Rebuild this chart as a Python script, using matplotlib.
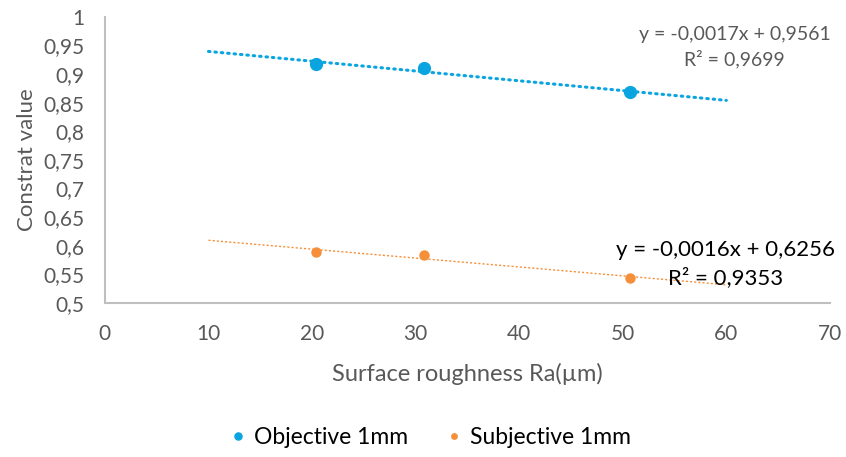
import numpy as np
import matplotlib.pyplot as plt
from matplotlib.ticker import FuncFormatter, MultipleLocator

plt.rcParams['font.family'] = ['Lato', 'DejaVu Sans']

roughness = [20.4, 30.8, 50.7]
objective = [0.918, 0.910, 0.868]
subjective = [0.589, 0.584, 0.544]
trend_range = [10, 60]

blue = '#0AA5E0'
orange = '#F58F3A'
gray = '#595959'

fig = plt.figure(figsize=(8.46, 4.57), dpi=100)
ax = fig.add_axes([0.124, 0.337, 0.857, 0.626])

ax.plot(roughness, objective, 'o', color=blue, markersize=8.5, label="Objective 1mm", zorder=3)
ax.plot(roughness, subjective, 'o', color=orange, markersize=6.5, label="Subjective 1mm", zorder=3)

# linear trendlines, like excel
xt = np.array(trend_range)
p1 = np.polyfit(roughness, objective, 1)
p2 = np.polyfit(roughness, subjective, 1)
ax.plot(xt, np.polyval(p1, xt), color=blue, lw=2.2, linestyle=(0, (0.5, 1.6)), dash_capstyle='round')
ax.plot(xt, np.polyval(p2, xt), color=orange, lw=1.0, linestyle=(0, (1.5, 1.5)))

ax.text(60.8, 0.9475, "y = -0,0017x + 0,9561\nR² = 0,9699", ha='center', va='center',
        color=gray, fontsize=14, linespacing=1.45)
ax.text(59.9, 0.568, "y = -0,0016x + 0,6256\nR² = 0,9353", ha='center', va='center',
        color='black', fontsize=16, linespacing=1.4)

ax.set_xlim(0, 70)
ax.set_ylim(0.5, 1.0)
ax.xaxis.set_major_locator(MultipleLocator(10))
ax.yaxis.set_major_locator(MultipleLocator(0.05))
fmt = FuncFormatter(lambda v, pos: ('%g' % round(v, 2)).replace('.', ','))
ax.xaxis.set_major_formatter(fmt)
ax.yaxis.set_major_formatter(fmt)

for s in ['top', 'right']:
    ax.spines[s].set_visible(False)
for s in ['left', 'bottom']:
    ax.spines[s].set_color('#BFBFBF')
    ax.spines[s].set_linewidth(1.5)
ax.tick_params(length=0, labelsize=15, colors=gray)
ax.tick_params(axis='y', pad=15)
ax.tick_params(axis='x', pad=15)

ax.set_xlabel("Surface roughness Ra(µm)", fontsize=17, color=gray, labelpad=14)
ax.set_ylabel("Constrat value", fontsize=16, color=gray, labelpad=4)

fig.legend(loc='center', bbox_to_anchor=(0.5, 0.043), ncol=2, frameon=False,
           fontsize=16.5, markerscale=0.6, handletextpad=-0.3, columnspacing=1.0,
           labelcolor='black')

fig.savefig("out.png", dpi=100)
